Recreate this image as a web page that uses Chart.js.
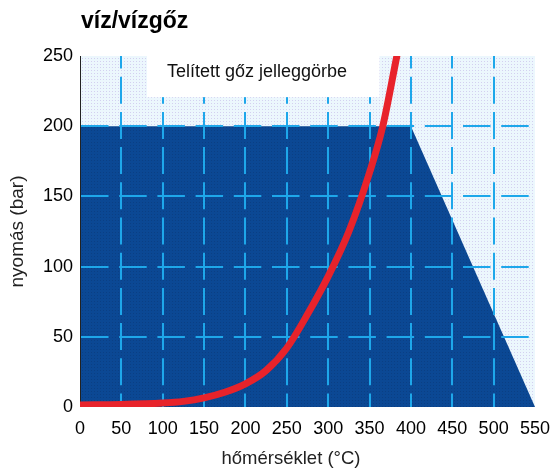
<!DOCTYPE html>
<html>
<head>
<meta charset="utf-8">
<script src="https://cdn.jsdelivr.net/npm/chart.js@4.4.1/dist/chart.umd.min.js"></script>
<style>
  html, body { margin: 0; padding: 0; background: #fff; }
  #wrap { width: 551px; height: 470px; }
</style>
</head>
<body>
<div id="wrap"><canvas id="chart" width="551" height="470"></canvas></div>
<script>
const chartTitle = "víz/vízgőz";
const curveLabel = "Telített gőz jelleggörbe";
const xAxisTitle = "hőmérséklet (°C)";
const yAxisTitle = "nyomás (bar)";

const xTicks = [0, 50, 100, 150, 200, 250, 300, 350, 400, 450, 500, 550];
const yTicks = [0, 50, 100, 150, 200, 250];

// saturated steam curve
const curveTemps = [0, 50, 100, 125, 150, 175, 200, 225, 250, 275, 300, 325, 350, 366, 383];
const curvePressures = [1.5, 1.8, 2.8, 4, 6.5, 10.5, 16.5, 26, 42, 66, 93, 125, 167, 200, 250];

// dark (usable) region outline
const regionTemps = [0, 400, 550];
const regionPressures = [200, 200, 0];

const FONT = '"Liberation Sans", Arial, sans-serif';
const gridColor = "#1ea7ea";

function dotPattern(base, dot) {
  const c = document.createElement("canvas");
  c.width = 3; c.height = 3;
  const g = c.getContext("2d");
  g.fillStyle = base;
  g.fillRect(0, 0, 3, 3);
  g.fillStyle = dot;
  g.fillRect(1, 1, 1, 1);
  return g.createPattern(c, "repeat");
}

const lightFill = dotPattern("#ecf7fd", "#d3d0f0");
const darkFill = dotPattern("#0b4894", "#0a3f84");

const toPoints = (xs, ys) => xs.map((x, i) => ({ x, y: ys[i] }));

const overlay = {
  id: "overlay",
  beforeDatasetsDraw(chart) {
    const { ctx, chartArea: a } = chart;
    ctx.save();
    ctx.fillStyle = lightFill;
    ctx.fillRect(a.left, a.top, a.right - a.left, a.bottom - a.top);
    ctx.restore();
  },
  afterDatasetDraw(chart, args) {
    if (args.index !== 1) return;
    const { ctx, chartArea: a, scales } = chart;
    const xs = scales.x, ys = scales.y;
    ctx.save();
    ctx.strokeStyle = gridColor;
    ctx.lineWidth = 2;

    // vertical dashed grid
    ctx.setLineDash([27, 8.2]);
    ctx.lineDashOffset = 13.5;
    xTicks.slice(1, -1).forEach((v) => {
      const x = Math.round(xs.getPixelForValue(v));
      ctx.beginPath();
      ctx.moveTo(x, a.bottom);
      ctx.lineTo(x, a.top);
      ctx.stroke();
    });

    // horizontal dashed grid
    ctx.setLineDash([27.5, 10.7]);
    ctx.lineDashOffset = 0;
    yTicks.slice(1, -1).forEach((v) => {
      const y = Math.round(ys.getPixelForValue(v));
      ctx.beginPath();
      ctx.moveTo(a.left + 1, y);
      ctx.lineTo(a.right - 5, y);
      ctx.stroke();
    });
    ctx.setLineDash([]);

    // label box
    const bx0 = xs.getPixelForValue(81);
    const bx1 = xs.getPixelForValue(362);
    const by1 = ys.getPixelForValue(220.7);
    ctx.fillStyle = "#ffffff";
    ctx.fillRect(bx0, a.top - 2, bx1 - bx0, by1 - a.top + 2);
    ctx.fillStyle = "#111";
    ctx.font = `18px ${FONT}`;
    ctx.textBaseline = "alphabetic";
    ctx.textAlign = "left";
    ctx.fillText(curveLabel, bx0 + 20, a.top + 21);

    // left axis line
    ctx.strokeStyle = "#222";
    ctx.lineWidth = 1;
    ctx.beginPath();
    ctx.moveTo(a.left + 0.5, a.top);
    ctx.lineTo(a.left + 0.5, a.bottom);
    ctx.stroke();
    ctx.restore();
  },
  afterDraw(chart) {
    const { ctx } = chart;
    ctx.save();
    ctx.fillStyle = "#000";
    ctx.textBaseline = "alphabetic";
    ctx.font = `bold 23px ${FONT}`;
    ctx.textAlign = "left";
    ctx.fillText(chartTitle, 81, 28);
    ctx.font = `18.5px ${FONT}`;
    ctx.textAlign = "center";
    ctx.fillStyle = "#222";
    ctx.fillText(xAxisTitle, 291, 464);
    ctx.restore();
  },
};

new Chart(document.getElementById("chart"), {
  type: "line",
  data: {
    datasets: [
      {
        label: curveLabel,
        data: toPoints(curveTemps, curvePressures),
        borderColor: "#e8232b",
        borderWidth: 7,
        borderCapStyle: "round",
        pointRadius: 0,
        fill: false,
        cubicInterpolationMode: "monotone",
      },
      {
        label: "region",
        data: toPoints(regionTemps, regionPressures),
        backgroundColor: darkFill,
        borderWidth: 0,
        pointRadius: 0,
        tension: 0,
        fill: "origin",
      },
    ],
  },
  options: {
    responsive: false,
    animation: false,
    devicePixelRatio: 1,
    layout: { padding: { top: 56, right: 16, bottom: 0, left: 0 } },
    plugins: { legend: { display: false }, tooltip: { enabled: false }, title: { display: false } },
    scales: {
      x: {
        type: "linear",
        min: 0,
        max: 550,
        grid: { display: false, drawTicks: false },
        border: { display: false },
        ticks: { color: "#000", padding: 11, maxRotation: 0, autoSkip: false, font: { family: FONT, size: 18 } },
        afterBuildTicks(s) { s.ticks = xTicks.map((v) => ({ value: v })); },
        afterFit(s) { s.height = 63; s.paddingLeft = 0; s.paddingRight = 0; },
      },
      y: {
        type: "linear",
        min: 0,
        max: 250,
        grid: { display: false, drawTicks: false },
        border: { display: false },
        ticks: { color: "#000", padding: 7, font: { family: FONT, size: 18 } },
        afterBuildTicks(s) { s.ticks = yTicks.map((v) => ({ value: v })); },
        afterFit(s) { s.width = 80; s.paddingTop = 0; s.paddingBottom = 0; },
        title: { display: true, text: yAxisTitle, color: "#222", padding: { top: 6, bottom: 0 }, font: { family: FONT, size: 19 } },
      },
    },
  },
  plugins: [overlay],
});
</script>
</body>
</html>
